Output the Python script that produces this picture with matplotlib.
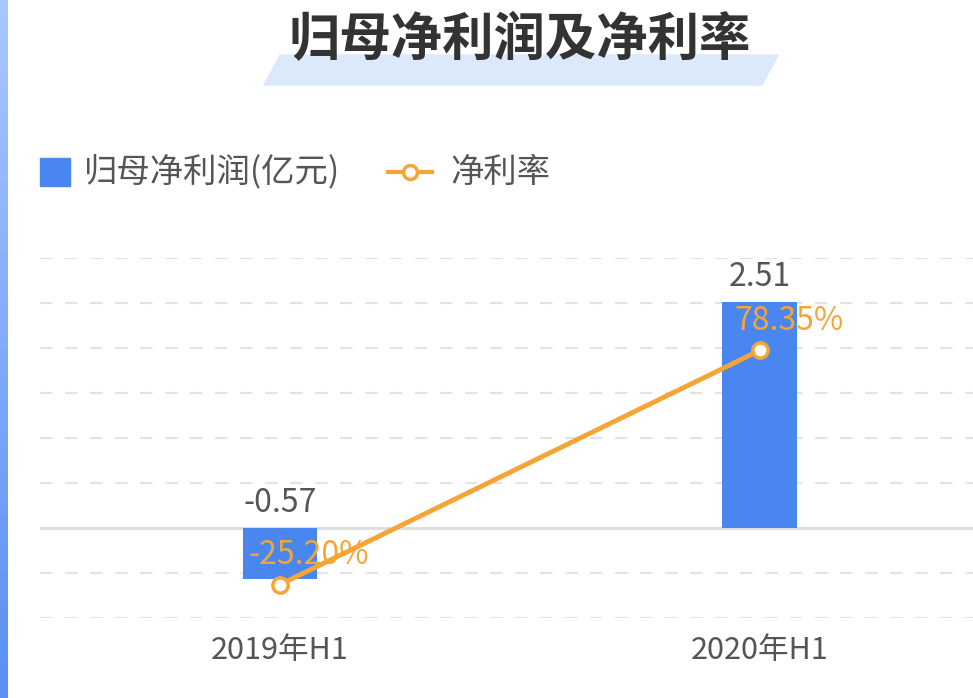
import matplotlib
matplotlib.use("Agg")
import matplotlib.pyplot as plt
from matplotlib.patches import Polygon, Rectangle
import numpy as np

plt.rcParams['font.family'] = ['Noto Sans CJK SC', 'DejaVu Sans']

categories = ["2019年H1", "2020年H1"]
profit = [-0.57, 2.51]
margin = [-25.20, 78.35]
profit_labels = ["-0.57", "2.51"]
margin_labels = ["-25.20%", "78.35%"]

W, H = 973, 698
fig = plt.figure(figsize=(W/100, H/100), dpi=100)

grad = np.linspace(0, 1, 50).reshape(-1, 1)
sax = fig.add_axes([0, 0, 8/W, 1])
sax.imshow(grad, aspect='auto', cmap=matplotlib.colors.LinearSegmentedColormap.from_list('g', ['#a9c6ff', '#5b8ff5']))
sax.axis('off')

fig.patches.append(Polygon([(280/W, 1-55/H), (778/W, 1-55/H), (762/W, 1-85/H), (264/W, 1-85/H)],
                           closed=True, transform=fig.transFigure, color='#dce9fb', zorder=0))
fig.text(520/W, 1-40/H, "归母净利润及净利率", ha='center', va='center', fontsize=37,
         fontweight='bold', color='#333333')

fig.patches.append(Rectangle((40/W, 1-186/H), 30/W, 28/H, transform=fig.transFigure, color='#4a86f0'))
fig.text(84/W, 1-172/H, "归母净利润(亿元)", va='center', fontsize=24, color='#555555')
fig.lines.append(matplotlib.lines.Line2D([388/W, 432/W], [1-172/H]*2, transform=fig.transFigure,
                                         color='#f5a535', lw=3))
fig.lines.append(matplotlib.lines.Line2D([410/W], [1-172/H], transform=fig.transFigure,
                                         color='#f5a535', marker='o', markersize=10, mfc='white', mew=2.5))
fig.text(450/W, 1-172/H, "净利率", va='center', fontsize=24, color='#555555')

ax = fig.add_axes([40/W, 80/H, 1-40/W, 360/H])
x = np.arange(len(categories))
ax.set_xlim(-0.5, 1.444)
ax.set_ylim(-1.0, 3.0)
for yv in np.arange(-1.0, 3.01, 0.5):
    if abs(yv) < 1e-9:
        ax.axhline(0, color='#dddddd', lw=2, zorder=1)
    else:
        ax.axhline(yv, color='#e3e3e3', lw=1.5, ls=(0, (6, 6)), zorder=1)
ax.bar(x, profit, width=0.156, color='#4a86f0', zorder=2)
for xi, v, lab in zip(x, profit, profit_labels):
    ax.text(xi, max(v, 0) + 0.1, lab, ha='center', va='bottom', fontsize=23, color='#555555')
ax.set_xticks(x)
ax.set_xticklabels(categories, fontsize=22, color='#555555')
ax.tick_params(length=0, pad=12)
ax.set_yticks([])
for s in ax.spines.values():
    s.set_visible(False)

ax2 = ax.twinx()
ax2.set_ylim(-40, 119.2)
ax2.plot(x, margin, color='#f5a535', lw=3.5, marker='o', markersize=11, mfc='white', mew=2.5, zorder=3)
for xi, v, lab in zip(x, margin, margin_labels):
    ax2.text(xi + 0.06, v + 6, lab, ha='center', va='bottom', fontsize=23, color='#f5a535')
ax2.set_yticks([])
for s in ax2.spines.values():
    s.set_visible(False)

fig.savefig("out.png", dpi=100)
